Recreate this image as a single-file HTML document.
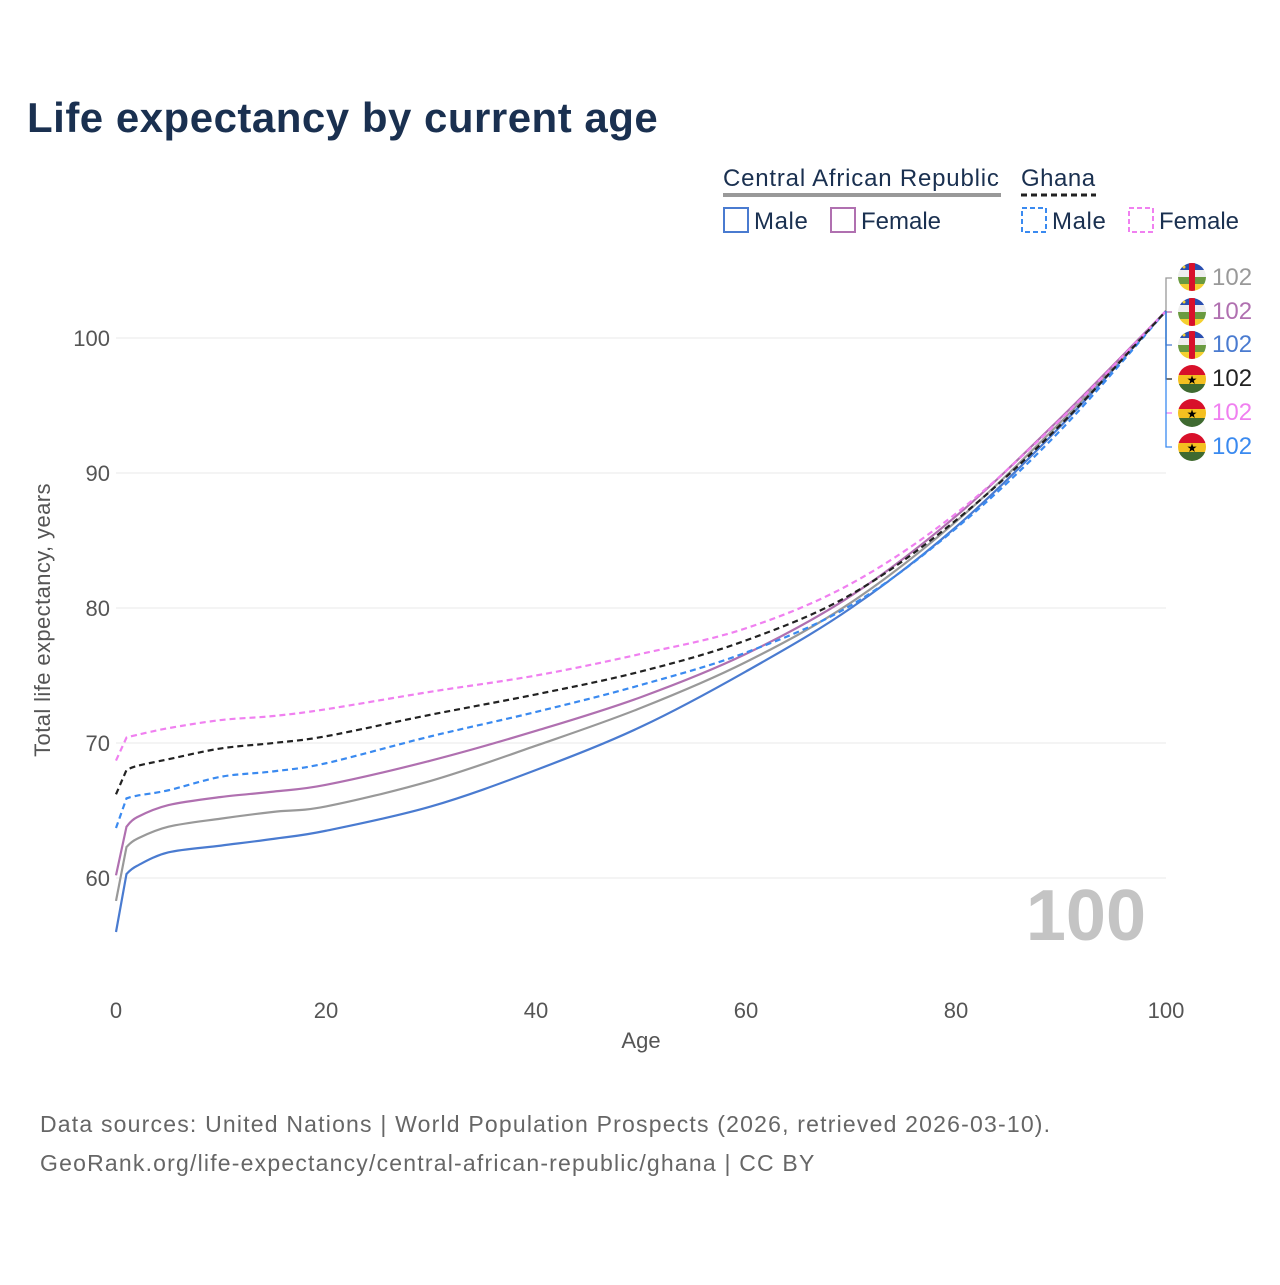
<!DOCTYPE html>
<html><head><meta charset="utf-8">
<style>
body{margin:0;background:#fff;width:1280px;height:1280px;overflow:hidden;font-family:"Liberation Sans",sans-serif}
</style></head><body>
<svg id="s" width="1280" height="1280" viewBox="0 0 1280 1280" xmlns="http://www.w3.org/2000/svg" font-family="Liberation Sans, sans-serif">
<defs>
<clipPath id="cc"><circle r="14" cx="0" cy="0"/></clipPath>
<g id="car"><g clip-path="url(#cc)"><rect x="-14" y="-14" width="28" height="7" fill="#2a4fb0"/><rect x="-14" y="-7" width="28" height="7" fill="#eee"/><rect x="-14" y="0" width="28" height="7" fill="#6a9a40"/><rect x="-14" y="7" width="28" height="7" fill="#f4d030"/><rect x="-3" y="-14" width="6" height="28" fill="#d8102a"/><circle cx="-8" cy="-10" r="1.5" fill="#f4d030"/></g></g>
<g id="gh"><g clip-path="url(#cc)"><rect x="-14" y="-14" width="28" height="10" fill="#d8102a"/><rect x="-14" y="-4" width="28" height="9" fill="#f4c020"/><rect x="-14" y="5" width="28" height="9" fill="#3f6a30"/><text x="0" y="5" font-size="12" text-anchor="middle" fill="#000">★</text></g></g>
</defs>
<text x="27" y="132" font-size="42" font-weight="bold" fill="#1a3050" letter-spacing="0.5">Life expectancy by current age</text>
<text x="723" y="186" font-size="24" fill="#1a3050" letter-spacing="0.8">Central African Republic</text>
<rect x="723" y="193" width="278" height="4" fill="#999"/>
<text x="1021" y="186" font-size="24" fill="#1a3050" letter-spacing="0.5">Ghana</text>
<line x1="1021" y1="195" x2="1096" y2="195" stroke="#222" stroke-width="3" stroke-dasharray="6,4"/>
<rect x="724" y="208" width="24" height="24" fill="none" stroke="#4a7bd0" stroke-width="2"/><text x="754" y="229" font-size="24" fill="#1a3050" letter-spacing="0.6">Male</text>
<rect x="831" y="208" width="24" height="24" fill="none" stroke="#b070b0" stroke-width="2"/><text x="861" y="229" font-size="24" fill="#1a3050">Female</text>
<rect x="1022" y="208" width="24" height="24" fill="none" stroke="#3a8af0" stroke-width="2" stroke-dasharray="5,3"/><text x="1052" y="229" font-size="24" fill="#1a3050" letter-spacing="0.6">Male</text>
<rect x="1129" y="208" width="24" height="24" fill="none" stroke="#f080f0" stroke-width="2" stroke-dasharray="5,3"/><text x="1159" y="229" font-size="24" fill="#1a3050">Female</text>
<g stroke="#e8e8e8" stroke-width="1">
<line x1="116" x2="1166" y1="338" y2="338"/><line x1="116" x2="1166" y1="473" y2="473"/><line x1="116" x2="1166" y1="608" y2="608"/><line x1="116" x2="1166" y1="743" y2="743"/><line x1="116" x2="1166" y1="878" y2="878"/>
</g>
<g font-size="22" fill="#555" text-anchor="end">
<text x="110" y="346">100</text><text x="110" y="481">90</text><text x="110" y="616">80</text><text x="110" y="751">70</text><text x="110" y="886">60</text>
</g>
<g font-size="22" fill="#555" text-anchor="middle">
<text x="116" y="1018">0</text><text x="326" y="1018">20</text><text x="536" y="1018">40</text><text x="746" y="1018">60</text><text x="956" y="1018">80</text><text x="1166" y="1018">100</text>
<text x="641" y="1048">Age</text>
</g>
<text transform="translate(50,620) rotate(-90)" font-size="22" fill="#555" text-anchor="middle" letter-spacing="0.4">Total life expectancy, years</text>
<text x="1146" y="940" font-size="72" font-weight="bold" fill="#c4c4c4" text-anchor="end">100</text>
<g id="lines"></g>
<g fill="none" stroke-width="1.3">
<path d="M1172 278H1166V311" stroke="#999"/><path d="M1172 312H1166" stroke="#b070b0"/><path d="M1172 345H1166V311" stroke="#4a7bd0"/>
<path d="M1172 379H1166V311" stroke="#222"/><path d="M1172 413H1166" stroke="#f080f0"/><path d="M1172 447H1166V311" stroke="#3a8af0"/>
</g>
<use href="#car" x="1192" y="277"/><use href="#car" x="1192" y="312"/><use href="#car" x="1192" y="345"/>
<use href="#gh" x="1192" y="379"/><use href="#gh" x="1192" y="413"/><use href="#gh" x="1192" y="447"/>
<g font-size="24">
<text x="1212" y="285" fill="#999">102</text><text x="1212" y="319" fill="#b070b0">102</text><text x="1212" y="352" fill="#4a7bd0">102</text>
<text x="1212" y="386" fill="#222">102</text><text x="1212" y="420" fill="#f080f0">102</text><text x="1212" y="454" fill="#3a8af0">102</text>
</g>
<text x="40" y="1132" font-size="23" fill="#666" letter-spacing="1.2">Data sources: United Nations | World Population Prospects (2026, retrieved 2026-03-10).</text>
<text x="40" y="1171" font-size="23" fill="#666" letter-spacing="1.2">GeoRank.org/life-expectancy/central-african-republic/ghana | CC BY</text>
</svg>
<script>
var ages=[0,1,2,5,10,15,20,30,40,50,60,70,80,90,100];
var S=[
["#4a7bd0","",[56,60.3,60.9,61.9,62.4,62.9,63.5,65.3,68.0,71.2,75.3,80.0,86.0,93.5,102]],
["#999","",[58.3,62.3,62.9,63.8,64.4,64.9,65.3,67.2,69.8,72.6,76.0,80.4,86.4,93.8,102]],
["#b070b0","",[60.2,63.8,64.5,65.4,66.0,66.4,66.9,68.7,70.9,73.4,76.6,80.9,86.8,94.1,102]],
["#3a8af0","6,4",[63.7,65.9,66.1,66.5,67.5,67.9,68.5,70.5,72.3,74.3,76.7,80.2,85.9,93.2,102]],
["#f080f0","6,4",[68.7,70.4,70.6,71.1,71.7,72.0,72.5,73.8,75.0,76.6,78.5,81.8,87.0,94.0,102]],
["#222","6,4",[66.2,68.0,68.3,68.8,69.6,70.0,70.5,72.1,73.6,75.3,77.6,81.0,86.5,93.6,102]]
];
var g=document.getElementById('lines'),ns="http://www.w3.org/2000/svg";
S.forEach(function(s){
 var p=ages.map(function(a,i){return [116+10.5*a,338+(100-s[2][i])*13.5];});
 var d="M"+p[0][0]+" "+p[0][1]+"L"+p[1][0]+" "+p[1][1];
 for(var i=1;i<p.length-1;i++){var p0=p[i-1],p1=p[i],p2=p[i+1],p3=p[i+2]||p2;
  if(i==1)p0=p1;
  d+="C"+(p1[0]+(p2[0]-p0[0])/6)+" "+(p1[1]+(p2[1]-p0[1])/6)+" "+(p2[0]-(p3[0]-p1[0])/6)+" "+(p2[1]-(p3[1]-p1[1])/6)+" "+p2[0]+" "+p2[1];}
 var e=document.createElementNS(ns,"path");e.setAttribute("d",d);e.setAttribute("fill","none");e.setAttribute("stroke",s[0]);e.setAttribute("stroke-width","2.2");
 if(s[1])e.setAttribute("stroke-dasharray",s[1]);g.appendChild(e);
});
</script>
</body></html>
